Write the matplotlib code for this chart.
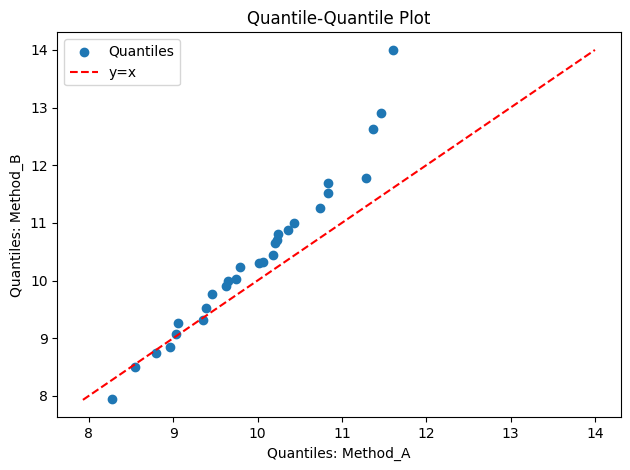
import numpy as np
import matplotlib
matplotlib.use('Agg')
import matplotlib.pyplot as plt

# quantis
q_a = [8.27, 8.55, 8.80, 8.96, 9.03, 9.06, 9.35, 9.39, 9.46, 9.63, 9.65, 9.75,
       9.79, 10.02, 10.07, 10.18, 10.21, 10.23, 10.24, 10.36, 10.43, 10.74,
       10.83, 10.84, 11.29, 11.37, 11.46, 11.60]
q_b = [7.95, 8.50, 8.74, 8.85, 9.07, 9.27, 9.31, 9.52, 9.77, 9.91, 10.00, 10.03,
       10.23, 10.30, 10.33, 10.44, 10.65, 10.70, 10.81, 10.88, 11.00, 11.26,
       11.52, 11.69, 11.78, 12.63, 12.90, 14.00]

lo = min(min(q_a), min(q_b)) - 0.02
hi = max(max(q_a), max(q_b))

plt.figure(figsize=(6.3, 4.7), dpi=100)
plt.scatter(q_a, q_b, label='Quantiles')
plt.plot([lo, hi], [lo, hi], 'r--', label='y=x')
plt.title('Quantile-Quantile Plot')
plt.xlabel('Quantiles: Method_A')
plt.ylabel('Quantiles: Method_B')
plt.legend()
plt.subplots_adjust(left=0.091, right=0.985, top=0.931, bottom=0.112)
plt.savefig('out.png')
